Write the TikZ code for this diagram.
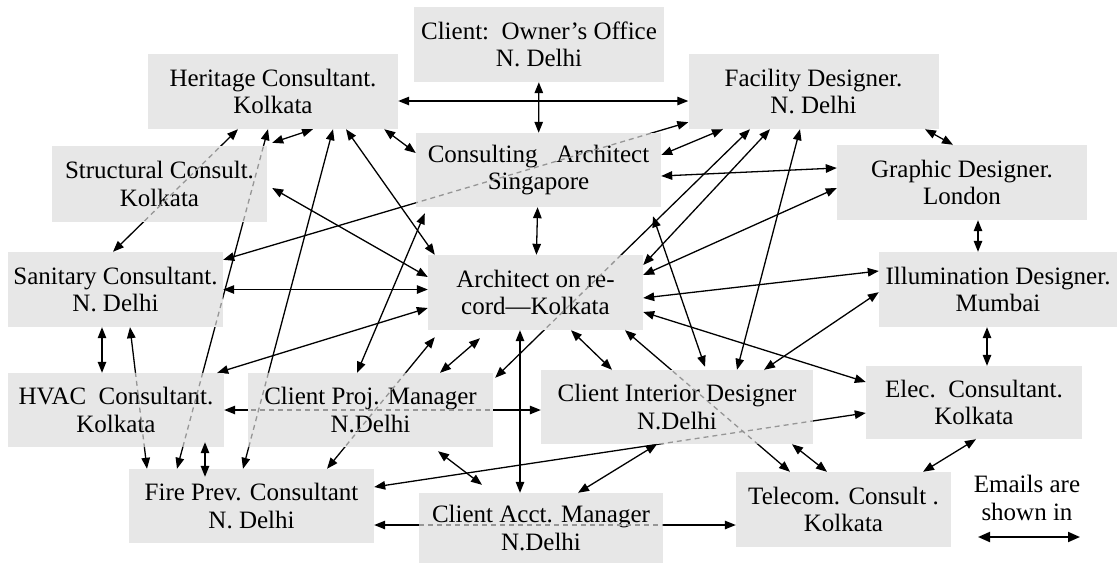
\documentclass[tikz,border=0pt]{standalone}
\usepackage{fontspec}
\setmainfont{Liberation Serif}
\usetikzlibrary{arrows.meta, backgrounds}
\definecolor{boxgray}{RGB}{231,231,231}
\definecolor{midgray}{RGB}{150,150,150}

% all email links; drawn solid behind the boxes and dashed inside them
\newcommand\maillinks[1]{%
  \draw[#1] ([yshift=-9.5pt]heritage.east) -- ([yshift=-9.5pt]facility.west);
  \draw[#1] (owner) -- (consulting);
  \draw[#1] (consulting) -- (architect);
  \draw[#1] ([xshift=111.5pt]facility.south) -- ([xshift=-9pt]graphic.north);
  \draw[#1] ([xshift=16pt]graphic.south) -- ([xshift=-20pt]illumination.north);
  \draw[#1] ([xshift=-11pt]illumination.south) -- ([xshift=13pt]elec.north);
  \draw[#1] ([xshift=2pt]elec.south) -- ([xshift=79.5pt]telecom.north);
  \draw[#1] ([xshift=115pt]clientint.south) -- ([xshift=-16.5pt]telecom.north);
  \draw[#1] ([xshift=89.5pt]architect.south) -- ([xshift=-53.5pt]telecom.north);
  \draw[#1] ([xshift=35.5pt]architect.south) -- ([xshift=-65pt]clientint.north);
  \draw[#1] ([yshift=-19.5pt]architect.east) -- ([yshift=20.5pt]elec.west);
  \draw[#1] ([yshift=-5.5pt]architect.east) -- ([yshift=18.5pt]illumination.west);
  \draw[#1] ([yshift=17.5pt]architect.east) -- ([yshift=-5.5pt]graphic.west);
  \draw[#1] ([yshift=27.5pt]architect.east) -- ([xshift=-43.5pt]facility.south);
  \draw[#1] ([xshift=-63.5pt]facility.south) -- ([xshift=2pt,yshift=-5pt]clientproj.north east);
  \draw[#1] ([xshift=-13.5pt]facility.south) -- ([xshift=60pt]clientint.north);
  \draw[#1] ([xshift=114.5pt,yshift=-9pt]consulting.south) -- ([xshift=28pt,yshift=3pt]clientint.north);
  \draw[#1] ([yshift=15pt]consulting.east) -- ([xshift=-90.5pt]facility.south);
  \draw[#1] ([yshift=-6pt]consulting.east) -- ([yshift=14.5pt]graphic.west);
  \draw[#1] ([xshift=-14pt]heritage.south east) -- ([yshift=17pt]consulting.west);
  \draw[#1] ([xshift=73pt]heritage.south) -- ([xshift=7pt]architect.north west);
  \draw[#1] ([xshift=5pt,yshift=-4pt]structural.east) -- ([yshift=15.5pt]architect.west);
  \draw[#1] (sanitary.east) -- (sanitary.east -| architect.west);
  \draw[#1] ([yshift=-8pt]sanitary.north east) -- ([yshift=7pt]facility.south west);
  \draw[#1] ([xshift=5pt,yshift=3pt]structural.north east) -- ([xshift=40pt]heritage.south);
  \draw[#1] ([xshift=-35pt]heritage.south) -- ([xshift=-2.5pt]sanitary.north);
  \draw[#1] ([xshift=-5pt]heritage.south) -- ([xshift=-74.5pt]fire.north);
  \draw[#1] ([xshift=60pt]heritage.south) -- ([xshift=-8.5pt]fire.north);
  \draw[#1] ([xshift=7pt,yshift=-7pt]architect.south west) -- ([xshift=75.5pt]fire.north);
  \draw[#1] ([xshift=-55.5pt,yshift=-8pt]architect.south) -- ([xshift=69.5pt]clientproj.north);
  \draw[#1] ([xshift=-15.5pt]architect.south) -- ([xshift=-21pt]clientacct.north);
  \draw[#1] (hvac.east) -- (hvac.east -| clientint.west);
  \draw[#1] ([xshift=67.5pt,yshift=-4pt]clientproj.south) -- ([xshift=-59pt,yshift=8pt]clientacct.north);
  \draw[#1] ([yshift=19pt]fire.east) -- ([yshift=-10.5pt]elec.west);
  \draw[#1] ([xshift=37pt]clientacct.north) -- ([xshift=-20pt]clientint.south);
  \draw[#1] ([yshift=-19pt]fire.east) -- ([yshift=-15.5pt]telecom.west);
  \draw[#1] ([xshift=-13.5pt]sanitary.south) -- ([xshift=-14pt]hvac.north);
  \draw[#1] ([xshift=14.5pt]sanitary.south) -- ([xshift=-104.5pt]fire.north);
  \draw[#1] ([yshift=-15.5pt]architect.west) -- ([xshift=-7pt]hvac.north east);
  \draw[#1] ([xshift=87pt]clientint.north) -- ([yshift=35pt]illumination.south west);
  \draw[#1] ([xshift=9pt,yshift=-6pt]consulting.south west) -- ([xshift=-13.5pt]clientproj.north);
}

\begin{document}
\begin{tikzpicture}[
    x=1pt, y=-1pt,
    box/.style 2 args={rectangle, fill=boxgray, inner sep=0pt, minimum width=#1, minimum height=#2, align=center, font={\fontsize{25}{27.5}\selectfont}},
    mail/.style={<->, >={Triangle[length=11pt,width=8.5pt]}, line width=1.3pt},
    behind/.style={draw=midgray, dash pattern=on 5pt off 4pt, line width=1.3pt}
]
\useasboundingbox (0,0) rectangle (1117,563);

% Top row
\node[box={250pt}{75pt}] (owner) at (539,44.5) {Client:\ \ Owner’s Office\\N. Delhi};
\node[box={250pt}{75pt}] (heritage) at (273,91.5) {Heritage Consultant.\\Kolkata};
\node[box={250pt}{75pt}] (facility) at (813.5,91.5) {Facility Designer.\\N. Delhi};

% Second row
\node[box={245pt}{74pt}] (consulting) at (538.5,170) {Consulting\ \ \ Architect\\Singapore};
\node[box={215pt}{76pt}] (structural) at (159.5,184) {Structural Consult.\\Kolkata};
\node[box={250pt}{75pt}] (graphic) at (962,182.5) {Graphic Designer.\\London};

% Middle row
\node[box={215pt}{75pt}] (sanitary) at (115.5,289.5) {Sanitary Consultant.\\N. Delhi};
\node[box={215pt}{75pt}] (architect) at (535.5,292.5) {Architect on re-\\cord---Kolkata};
\node[box={238pt}{75pt}] (illumination) at (998,289.5) {Illumination Designer.\\Mumbai};

% Fourth row
\node[box={216pt}{74pt}] (hvac) at (116,410) {HVAC\ \ Consultant.\\Kolkata};
\node[box={245pt}{74pt}] (clientproj) at (370.5,410) {Client Proj. Manager\\N.Delhi};
\node[box={272pt}{74pt}] (clientint) at (677,407) {Client Interior Designer\\N.Delhi};
\node[box={216pt}{73pt}] (elec) at (974,402.5) {Elec.\ \ Consultant.\\Kolkata};

% Bottom row
\node[box={245pt}{74pt}] (fire) at (251.5,506) {Fire Prev. Consultant\\N. Delhi};
\node[box={244pt}{70pt}] (clientacct) at (541,528) {Client Acct. Manager\\N.Delhi};
\node[box={215pt}{75pt}] (telecom) at (843.5,509.5) {Telecom. Consult .\\Kolkata};

% Links
\begin{scope}[on background layer]
\maillinks{mail}
\end{scope}
\begin{scope}
\clip \foreach \n in {owner,heritage,facility,consulting,structural,graphic,sanitary,architect,illumination,hvac,clientproj,clientint,elec,fire,clientacct,telecom} {(\n.south west) rectangle (\n.north east)};
\maillinks{behind}
\end{scope}
% short link, its tips lie over the boxes
\draw[mail] ([xshift=89pt,yshift=5pt]hvac.south) -- ([xshift=-46.5pt,yshift=-8pt]fire.north);

% Legend
\node[align=center, font={\fontsize{25}{27.5}\selectfont}] (legend) at (1027,498) {Emails are\\shown in};
\coordinate (legl) at (978,537);
\coordinate (legr) at (1080,537);
\draw[<->, >={Triangle[length=12pt,width=10pt]}, line width=2pt] (legl) -- (legr);

\end{tikzpicture}
\end{document}
